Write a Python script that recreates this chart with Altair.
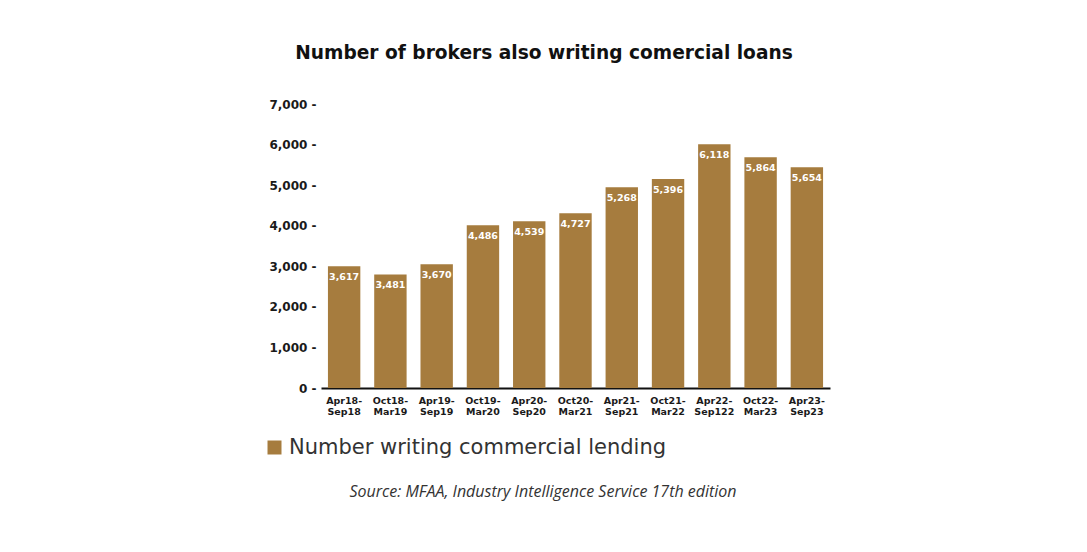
import altair as alt
import pandas as pd

periods = ["Apr18-Sep18", "Oct18-Mar19", "Apr19-Sep19", "Oct19-Mar20", "Apr20-Sep20",
           "Oct20-Mar21", "Apr21-Sep21", "Oct21-Mar22", "Apr22-Sep122", "Oct22-Mar23", "Apr23-Sep23"]
bar_heights = [3000, 2800, 3050, 4010, 4110, 4310, 4950, 5150, 6010, 5690, 5440]
value_labels = ["3,617", "3,481", "3,670", "4,486", "4,539", "4,727", "5,268", "5,396", "6,118", "5,864", "5,654"]
series_name = "Number writing commercial lending"
y_ticks = [0, 1000, 2000, 3000, 4000, 5000, 6000, 7000]
title_text = "Number of brokers also writing comercial loans"
source_text = "Source: MFAA, Industry Intelligence Service 17th edition"

BAR = "#A67C3E"
FONT = "DejaVu Sans"

df = pd.DataFrame({"period": periods, "height": bar_heights,
                   "label": value_labels, "series": [series_name] * len(periods)})

x_enc = alt.X(
    "period:N", sort=periods, title=None,
    scale=alt.Scale(paddingInner=0.3, paddingOuter=0.15),
    axis=alt.Axis(labelAngle=0, ticks=False, domainColor="#111111", domainWidth=2,
                  labelFont=FONT, labelFontSize=9.5, labelFontWeight="bold",
                  labelColor="#1a1a1a", labelPadding=7, labelLineHeight=11,
                  labelExpr="[slice(datum.label, 0, indexof(datum.label, '-') + 1), slice(datum.label, indexof(datum.label, '-') + 1)]"),
)
y_enc = alt.Y(
    "height:Q", title=None,
    scale=alt.Scale(domain=[0, 7000]),
    axis=alt.Axis(values=y_ticks, labelExpr="format(datum.value, ',') + ' -'",
                  ticks=False, domain=False, grid=False, labelFont=FONT,
                  labelFontSize=12, labelFontWeight="bold", labelColor="#1a1a1a",
                  labelPadding=5),
)

base = alt.Chart(df).encode(x=x_enc, y=y_enc)

bars = base.mark_bar().encode(
    color=alt.Color("series:N", scale=alt.Scale(range=[BAR]),
                    legend=alt.Legend(title=None, orient="none", legendX=-57, legendY=333,
                                      symbolType="square", symbolSize=196, symbolStrokeWidth=0,
                                      labelFont=FONT, labelFontSize=21, labelColor="#333333",
                                      labelOffset=4, labelLimit=600)),
)

text = base.mark_text(dy=11, baseline="middle", color="white", font=FONT,
                      fontWeight="bold", fontSize=9.5).encode(text="label:N")

title_layer = alt.Chart(pd.DataFrame({"t": [title_text]})).mark_text(
    font=FONT, fontSize=18.6, fontWeight="bold", color="#111111", baseline="middle", align="center"
).encode(text="t:N", x=alt.value(223), y=alt.value(-51))

source_layer = alt.Chart(pd.DataFrame({"t": [source_text]})).mark_text(
    font="Open Sans", fontSize=16, fontStyle="italic", color="#333333", baseline="middle", align="center"
).encode(text="t:N", x=alt.value(222), y=alt.value(388))

chart = alt.layer(bars, text, title_layer, source_layer).properties(
    width=509, height=284,
    autosize=alt.AutoSizeParams(type="none"),
    padding={"left": 313, "top": 96, "right": 249, "bottom": 150},
    background="white",
).configure_view(stroke=None)

chart.save("out.html", embed_options={"renderer": "svg", "actions": False})
